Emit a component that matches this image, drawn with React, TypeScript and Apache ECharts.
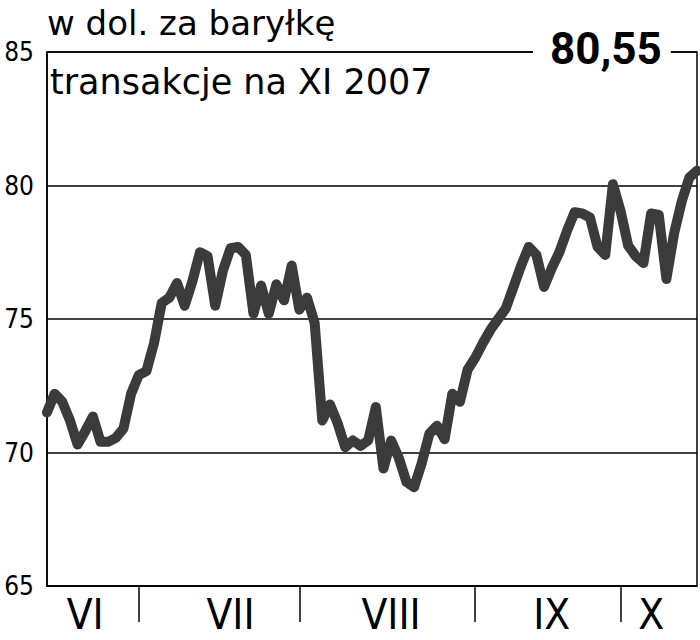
import React, { useEffect, useRef } from "react";
import * as echarts from "echarts";

const titleLine1 = "w dol. za baryłkę";
const titleLine2 = "transakcje na XI 2007";
const lastValueLabel = "80,55";

// daily prices, mid-June to mid-October 2007
const prices = [
  71.5, 72.2, 71.9, 71.2, 70.3, 70.8, 71.35, 70.4, 70.4, 70.55,
  70.9, 72.2, 72.9, 73.05, 74.1, 75.6, 75.8, 76.35, 75.5, 76.4,
  77.5, 77.35, 75.5, 76.8, 77.65, 77.7, 77.4, 75.2, 76.25, 75.2,
  76.3, 75.7, 77.0, 75.35, 75.8, 74.85, 71.2, 71.8, 71.1, 70.2,
  70.45, 70.25, 70.45, 71.7, 69.4, 70.45, 69.8, 68.9, 68.7, 69.6,
  70.7, 71.0, 70.5, 72.2, 71.9, 73.1, 73.55, 74.1, 74.6, 75.0,
  75.4, 76.2, 77.0, 77.7, 77.4, 76.2, 76.9, 77.5, 78.3, 79.0,
  78.95, 78.8, 77.7, 77.4, 80.05, 79.05, 77.75, 77.35, 77.1, 78.95,
  78.9, 76.5, 78.2, 79.4, 80.3, 80.55,
];

const months = ["VI", "VII", "VIII", "IX", "X"];
const monthBoundaryIdx = [12, 33, 56, 75];
const monthLabelIdx = [5, 24, 45, 66, 79];

const yMin = 65;
const yMax = 85;
const yStep = 5;

export default function App() {
  const ref = useRef<HTMLDivElement>(null);
  useEffect(() => {
    const chart = echarts.init(ref.current!, null, { renderer: "svg" });
    const cats = prices.map((_, i) => String(i));
    chart.setOption({
      animation: false,
      backgroundColor: "#fff",
      grid: {
        left: 47,
        right: 3,
        top: 52,
        bottom: 54,
        show: true,
        borderColor: "#000",
        borderWidth: 1.5,
      },
      xAxis: {
        type: "category",
        data: cats,
        boundaryGap: false,
        axisLine: { show: true, lineStyle: { color: "#000", width: 1.5 } },
        axisTick: {
          show: true,
          length: 36,
          interval: (i: number) => monthBoundaryIdx.includes(i),
          lineStyle: { color: "#000", width: 1.5 },
        },
        axisLabel: {
          interval: (i: number) => monthLabelIdx.includes(i),
          formatter: (_v: string, i: number) => months[monthLabelIdx.indexOf(i)] ?? "",
          color: "#000",
          fontSize: 42,
          fontFamily: "DejaVu Sans Condensed",
          margin: 7,
        },
        splitLine: { show: false },
      },
      yAxis: {
        type: "value",
        min: yMin,
        max: yMax,
        interval: yStep,
        axisLine: { show: true, lineStyle: { color: "#000", width: 1.5 } },
        axisTick: { show: false },
        axisLabel: {
          color: "#000",
          fontSize: 26,
          fontFamily: "DejaVu Sans Condensed",
          margin: 13,
        },
        splitLine: { show: true, lineStyle: { color: "#000", width: 1.5 } },
      },
      series: [
        {
          type: "line",
          data: prices,
          symbol: "none",
          lineStyle: { color: "#3b3b3b", width: 10, join: "round", cap: "round" },
        },
      ],
      graphic: [
        {
          type: "text",
          left: 47,
          top: 6,
          z: 100,
          style: {
            text: titleLine1,
            fill: "#000",
            font: "34px 'DejaVu Sans'",
          },
        },
        {
          type: "text",
          left: 50,
          top: 64,
          z: 100,
          style: {
            text: titleLine2,
            fill: "#000",
            font: "35px 'DejaVu Sans'",
          },
        },
        {
          type: "text",
          left: 533,
          top: 27,
          z: 100,
          style: {
            text: lastValueLabel,
            fill: "#000",
            font: "bold 44px Roboto",
            backgroundColor: "#fff",
            padding: [0, 9, 0, 17],
          },
        },
      ],
    });
    return () => chart.dispose();
  }, []);
  return (
    <div
      ref={ref}
      style={{ position: "fixed", left: 0, top: 0, width: 700, height: 640 }}
    />
  );
}
